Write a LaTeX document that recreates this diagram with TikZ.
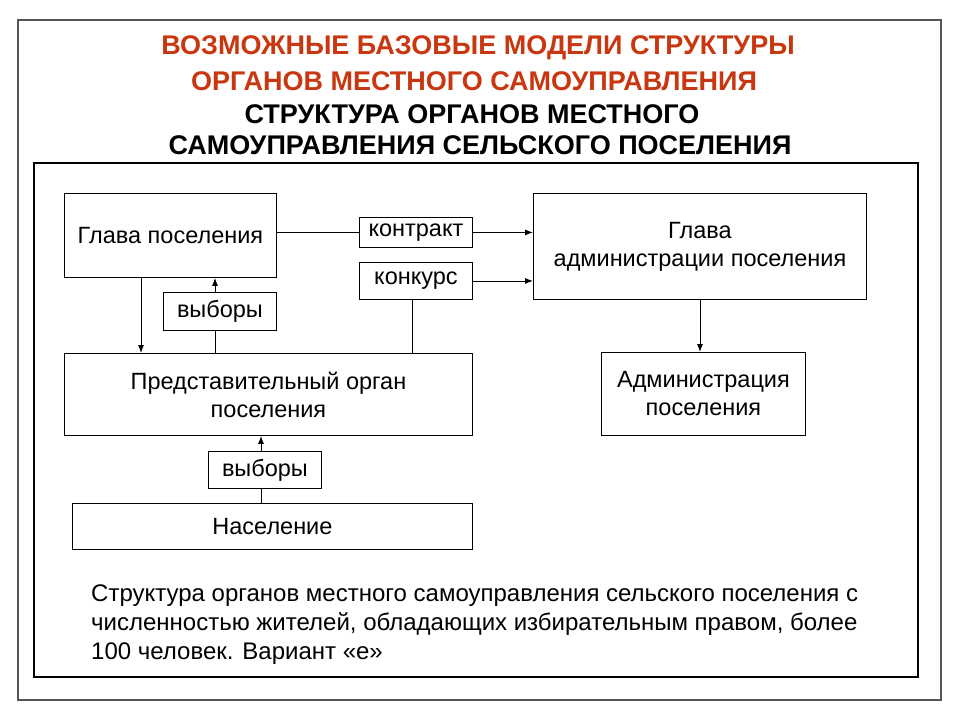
\documentclass[tikz,border=0pt]{standalone}
\usepackage{fontspec}
\setmainfont{Liberation Sans}
\usetikzlibrary{arrows.meta}
\definecolor{titlered}{RGB}{200,55,15}
\definecolor{framegray}{RGB}{85,85,85}
\begin{document}
\begin{tikzpicture}[x=1pt,y=-1pt,
  box/.style={draw=black,line width=0.9pt,anchor=north west,inner sep=0pt,align=center,font=\fontsize{23.5}{28}\selectfont},
  conn/.style={line width=0.9pt},
  arr/.style={conn,-{Latex[length=8pt,width=6pt]}},
  title/.style={anchor=base,inner sep=0pt,font=\fontsize{27}{30}\selectfont\bfseries},
  body/.style={anchor=base west,inner sep=0pt,font=\fontsize{24}{29}\selectfont}]
\useasboundingbox (0,0) rectangle (960,720);
\fill[white] (0,0) rectangle (960,720);
\draw[framegray,line width=2pt] (18,20) rectangle (941,700);
\draw[black,line width=1.5pt] (34,163) rectangle (918,677);

\node[title,text=titlered] (h1) at (478,54) {ВОЗМОЖНЫЕ БАЗОВЫЕ МОДЕЛИ СТРУКТУРЫ};
\node[title,text=titlered] (h2) at (474,90) {ОРГАНОВ МЕСТНОГО САМОУПРАВЛЕНИЯ};
\node[title] (h3) at (472,123) {СТРУКТУРА ОРГАНОВ МЕСТНОГО};
\node[title] (h4) at (480,154) {САМОУПРАВЛЕНИЯ СЕЛЬСКОГО ПОСЕЛЕНИЯ};

\node[box,minimum width=212pt,minimum height=84pt] (glava) at (64,193) {Глава поселения};
\node[box,minimum width=113pt,minimum height=30pt] (kontrakt) at (359,217) {контракт};
\node[box,minimum width=113pt,minimum height=37pt] (konkurs) at (359,262) {конкурс};
\node[box,minimum width=333pt,minimum height=106pt] (gadm) at (533,193) {Глава\\администрации поселения};
\node[box,minimum width=113pt,minimum height=38pt] (vyb1) at (163,292) {выборы};
\node[box,minimum width=408pt,minimum height=82pt] (predst) at (64,353) {Представительный орган\\поселения};
\node[box,minimum width=204pt,minimum height=83pt] (adm) at (601,352) {Администрация\\поселения};
\node[box,minimum width=113pt,minimum height=37pt] (vyb2) at (208,451) {выборы};
\node[box,minimum width=400pt,minimum height=46pt] (nas) at (72,503) {Население};

\draw[conn] (glava.east |- kontrakt) -- (kontrakt.west);
\draw[arr] (kontrakt.east) -- (gadm.west |- kontrakt);
\draw[arr] (konkurs.east) -- (gadm.west |- konkurs);
\draw[conn] ([xshift=53pt]konkurs.south west) -- ([xshift=53pt]konkurs.south west |- predst.north);
\draw[arr] ([xshift=77pt]glava.south west) -- ([xshift=77pt]glava.south west |- predst.north);
\draw[arr] ([xshift=52pt]vyb1.north west) -- ([xshift=52pt]vyb1.north west |- glava.south);
\draw[conn] ([xshift=52pt]vyb1.south west) -- ([xshift=52pt]vyb1.south west |- predst.north);
\draw[arr] ([xshift=53pt]vyb2.north west) -- ([xshift=53pt]vyb2.north west |- predst.south);
\draw[conn] ([xshift=53pt]vyb2.south west) -- ([xshift=53pt]vyb2.south west |- nas.north);
\draw[arr] (gadm.south) -- (adm.north -| gadm.south);

\node[body] (t1) at (91,601) {Структура органов местного самоуправления сельского поселения с};
\node[body] (t2) at (91,630) {численностью жителей, обладающих избирательным правом, более};
\node[body] (t3) at (91,659) {100 человек. Вариант «е»};
\end{tikzpicture}
\end{document}
